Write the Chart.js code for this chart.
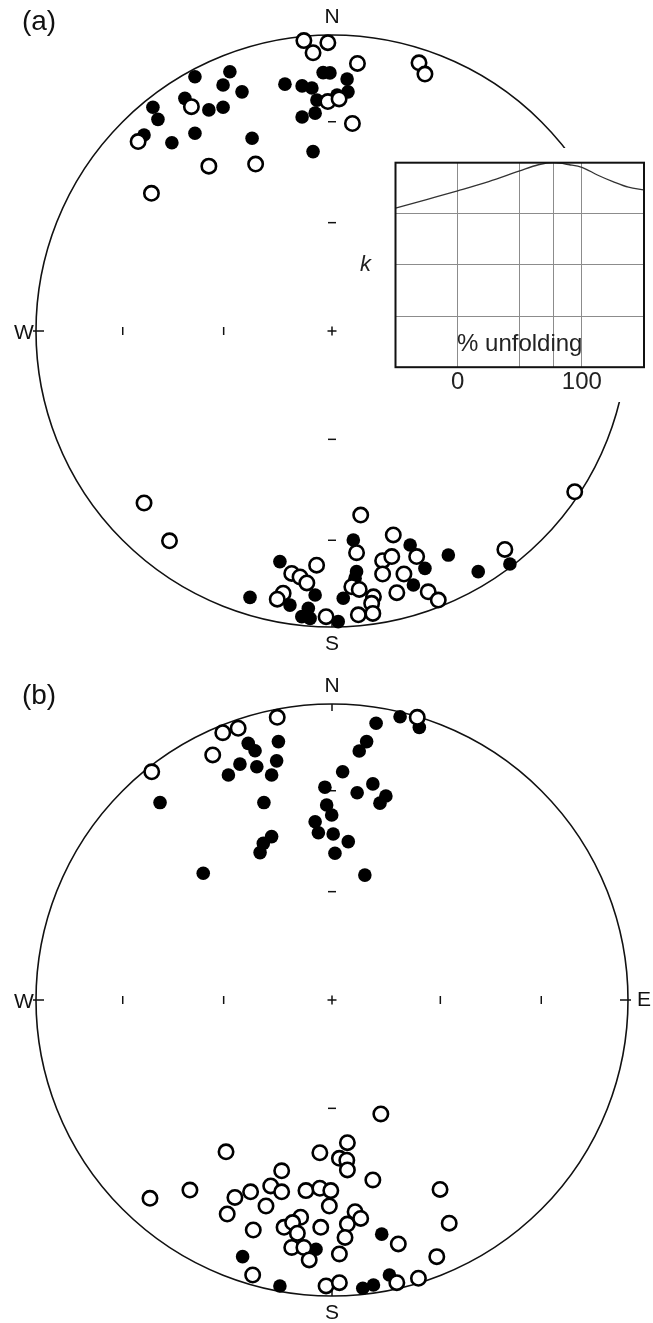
<!DOCTYPE html>
<html>
<head>
<meta charset="utf-8">
<script src="https://cdn.jsdelivr.net/npm/chart.js@4.4.1/dist/chart.umd.min.js"></script>
<style>
  html, body { margin: 0; padding: 0; background: #fff; }
  #page { position: relative; width: 653px; height: 1323px; overflow: hidden; }
  #netA { position: absolute; left: 0; top: 0; }
  #netB { position: absolute; left: 0; top: 662px; }
  #inset { position: absolute; left: 350px; top: 148px; width: 303px; height: 254px; background: #fff; }
</style>
</head>
<body>
<div id="page">
  <canvas id="netA" width="653" height="662"></canvas>
  <canvas id="netB" width="653" height="661"></canvas>
  <div id="inset"><canvas id="kChart" width="303" height="254"></canvas></div>
</div>
<script>
// equal-area net positions, [east, north] in units of the net radius
const aOpen = [
  [-0.095,0.981],[-0.014,0.974],[-0.064,0.940],[0.086,0.904],[0.294,0.906],[0.314,0.868],
  [-0.014,0.775],[0.024,0.784],[0.069,0.701],[-0.475,0.758],[-0.655,0.640],[-0.416,0.557],
  [-0.258,0.564],[-0.610,0.465],
  [-0.635,-0.581],[-0.549,-0.709],[0.820,-0.543],[0.097,-0.622],[0.207,-0.689],[0.083,-0.749],
  [-0.052,-0.791],[-0.136,-0.819],[-0.108,-0.831],[-0.085,-0.851],[-0.165,-0.886],[-0.185,-0.906],
  [0.171,-0.776],[0.202,-0.762],[0.171,-0.821],[0.243,-0.821],[0.286,-0.762],[0.219,-0.884],
  [0.325,-0.881],[0.359,-0.909],[0.067,-0.864],[0.092,-0.873],[0.140,-0.898],[0.134,-0.920],
  [0.089,-0.959],[0.138,-0.954],[-0.020,-0.965],[0.584,-0.738]
];
const aFilled = [
  [-0.463,0.859],[-0.345,0.876],[-0.368,0.831],[-0.304,0.808],[-0.605,0.756],[-0.588,0.715],
  [-0.497,0.786],[-0.416,0.747],[-0.368,0.756],[-0.463,0.668],[-0.635,0.662],[-0.541,0.636],
  [-0.270,0.651],[-0.159,0.834],[-0.101,0.828],[-0.068,0.821],[-0.030,0.873],[-0.007,0.872],
  [0.051,0.851],[0.054,0.808],[-0.051,0.780],[-0.057,0.736],[-0.101,0.723],[-0.064,0.606],
  [0.017,0.797],
  [-0.277,-0.900],[-0.176,-0.779],[-0.142,-0.926],[-0.057,-0.892],[-0.080,-0.937],[-0.102,-0.965],
  [-0.074,-0.971],[0.021,-0.982],[0.072,-0.706],[0.083,-0.813],[0.078,-0.835],[0.038,-0.903],
  [0.264,-0.723],[0.314,-0.802],[0.275,-0.858],[0.393,-0.757],[0.494,-0.813],[0.601,-0.787]
];
const bOpen = [
  [-0.609,0.771],[-0.403,0.828],[-0.369,0.903],[-0.317,0.918],[-0.185,0.955],[0.288,0.955],
  [0.165,-0.385],[-0.358,-0.513],[-0.041,-0.516],[0.052,-0.482],[0.025,-0.535],[0.050,-0.541],
  [0.052,-0.574],[-0.170,-0.577],[0.138,-0.608],[-0.615,-0.670],[-0.480,-0.642],[-0.328,-0.667],
  [-0.275,-0.648],[-0.207,-0.628],[-0.170,-0.648],[-0.223,-0.696],[-0.354,-0.723],[-0.088,-0.644],
  [-0.041,-0.636],[-0.004,-0.644],[-0.009,-0.696],[0.365,-0.640],[0.396,-0.754],[-0.266,-0.777],
  [-0.162,-0.768],[-0.106,-0.734],[-0.133,-0.752],[-0.117,-0.788],[-0.038,-0.768],[0.052,-0.757],
  [0.078,-0.715],[0.097,-0.738],[0.044,-0.802],[-0.136,-0.836],[-0.095,-0.836],[-0.077,-0.878],
  [0.025,-0.858],[0.224,-0.824],[0.354,-0.867],[-0.268,-0.929],[0.292,-0.940],[0.219,-0.955],
  [-0.020,-0.966],[0.025,-0.955]
];
const bFilled = [
  [-0.581,0.667],[-0.350,0.760],[-0.311,0.797],[-0.283,0.867],[-0.260,0.842],[-0.254,0.788],
  [-0.181,0.873],[-0.187,0.808],[-0.204,0.760],[-0.230,0.667],[-0.204,0.552],[-0.232,0.529],
  [-0.243,0.498],[-0.435,0.428],[0.149,0.935],[0.230,0.957],[0.295,0.921],[0.117,0.873],
  [0.092,0.841],[0.036,0.771],[-0.024,0.719],[0.085,0.700],[0.138,0.730],[0.182,0.689],
  [0.162,0.665],[-0.018,0.659],[-0.001,0.625],[-0.057,0.602],[-0.046,0.565],[0.004,0.561],
  [0.055,0.535],[0.010,0.496],[0.111,0.422],
  [-0.302,-0.867],[-0.176,-0.966],[-0.054,-0.842],[0.168,-0.791],[0.194,-0.929],[0.104,-0.974],
  [0.140,-0.963]
];
// axis ticks of the net (60 and 30 deg inclination, equal-area)
const netTicks = [0.366, 0.707];

// inset: k against % unfolding
const unfoldPct = [-50, -25, 0, 25, 50, 65, 77, 90, 100, 112.5, 125, 137.5, 150];
const kValues   = [3.11, 3.28, 3.45, 3.63, 3.84, 3.96, 4.0, 3.96, 3.91, 3.76, 3.63, 3.52, 3.47];
const xGridPct  = [0, 50, 77, 100];
const xLabelPct = [0, 100];

const FONT = '"Liberation Sans", Arial, Helvetica, sans-serif';

const netFrame = {
  id: 'netFrame',
  beforeDatasetsDraw(chart, args, opts) {
    const { ctx, chartArea: a, scales: { x, y } } = chart;
    const cx = x.getPixelForValue(0), cy = y.getPixelForValue(0);
    const r = x.getPixelForValue(1) - cx;
    const seg = (x1, y1, x2, y2) => { ctx.beginPath(); ctx.moveTo(x1, y1); ctx.lineTo(x2, y2); ctx.stroke(); };
    ctx.save();
    ctx.strokeStyle = '#111';
    ctx.lineWidth = 1.6;
    ctx.beginPath(); ctx.arc(cx, cy, r, 0, Math.PI * 2); ctx.stroke();

    ctx.lineWidth = 1.5;
    seg(cx - 4.5, cy, cx + 4.5, cy);
    seg(cx, cy - 4.5, cx, cy + 4.5);
    netTicks.forEach(t => {
      [-t, t].forEach(v => {
        const px = x.getPixelForValue(v), py = y.getPixelForValue(v);
        seg(px, cy - 4, px, cy + 4);
        seg(cx - 4, py, cx + 4, py);
      });
    });
    // rim ticks
    seg(a.left - 3, cy, a.left + 8, cy);
    seg(a.right + 3, cy, a.right - 8, cy);
    seg(cx, a.top, cx, a.top + 7);
    seg(cx, a.bottom, cx, a.bottom - 7);

    ctx.fillStyle = '#111';
    ctx.textAlign = 'center';
    ctx.textBaseline = 'middle';
    ctx.font = '21px ' + FONT;
    ctx.fillText('N', cx, a.top - 18);
    ctx.fillText('S', cx, a.bottom + 17);
    ctx.fillText('W', a.left - 12, cy + 2);
    if (opts.east) ctx.fillText('E', a.right + 16, cy);
    ctx.font = '28px ' + FONT;
    ctx.fillText(opts.label, opts.labelX, opts.labelY);
    ctx.restore();
  }
};

function makeNet(id, open, filled, pad, frameOpts) {
  return new Chart(document.getElementById(id), {
    type: 'scatter',
    data: {
      datasets: [
        { data: open.map(([x, y]) => ({ x, y })), pointRadius: 7.2, pointBorderWidth: 2.6,
          pointBackgroundColor: '#fff', pointBorderColor: '#000', clip: false },
        { data: filled.map(([x, y]) => ({ x, y })), pointRadius: 6.8, pointBorderWidth: 0,
          pointBackgroundColor: '#000', pointBorderColor: '#000', clip: false }
      ]
    },
    options: {
      responsive: false,
      animation: false,
      devicePixelRatio: 1,
      layout: { padding: pad },
      scales: {
        x: { display: false, min: -1, max: 1 },
        y: { display: false, min: -1, max: 1 }
      },
      plugins: { legend: { display: false }, tooltip: { enabled: false }, netFrame: frameOpts }
    },
    plugins: [netFrame]
  });
}

makeNet('netA', aOpen, aFilled, { left: 36, right: 25, top: 35, bottom: 35 },
  { label: '(a)', labelX: 39, labelY: 22, east: false });
makeNet('netB', bOpen, bFilled, { left: 36, right: 25, top: 42, bottom: 27 },
  { label: '(b)', labelX: 39, labelY: 34, east: true });

const insetFrame = {
  id: 'insetFrame',
  afterDraw(chart) {
    const { ctx, chartArea: a, scales: { x, y } } = chart;
    ctx.save();
    ctx.strokeStyle = '#111';
    ctx.lineWidth = 2;
    ctx.strokeRect(a.left, a.top, a.right - a.left, a.bottom - a.top);
    ctx.fillStyle = '#222';
    ctx.textAlign = 'center';
    ctx.textBaseline = 'middle';
    ctx.font = '24px ' + FONT;
    ctx.fillText('% unfolding', x.getPixelForValue(50), y.getPixelForValue(0.45));
    ctx.font = 'italic 22px ' + FONT;
    ctx.fillText('k', a.left - 30, y.getPixelForValue(2));
    ctx.restore();
  }
};

new Chart(document.getElementById('kChart'), {
  type: 'line',
  data: {
    datasets: [{
      data: unfoldPct.map((u, i) => ({ x: u, y: kValues[i] })),
      borderColor: '#333', borderWidth: 1.3, pointRadius: 0,
      cubicInterpolationMode: 'monotone', fill: false
    }]
  },
  options: {
    responsive: false,
    animation: false,
    devicePixelRatio: 1,
    layout: { padding: { left: 45.5, right: 9, top: 14.7, bottom: 4 } },
    plugins: { legend: { display: false }, tooltip: { enabled: false } },
    scales: {
      x: {
        type: 'linear', min: -50, max: 150,
        afterBuildTicks: s => { s.ticks = xGridPct.map(v => ({ value: v })); },
        grid: { color: '#8c8c8c', lineWidth: 1, drawTicks: false },
        border: { display: false },
        ticks: {
          padding: 1, color: '#222', autoSkip: false, maxRotation: 0,
          font: { family: FONT, size: 24 },
          callback: v => xLabelPct.includes(v) ? String(v) : ''
        }
      },
      y: {
        min: 0, max: 4,
        ticks: { display: false, stepSize: 1 },
        grid: { color: '#8c8c8c', lineWidth: 1, drawTicks: false },
        border: { display: false }
      }
    }
  },
  plugins: [insetFrame]
});
</script>
</body>
</html>
